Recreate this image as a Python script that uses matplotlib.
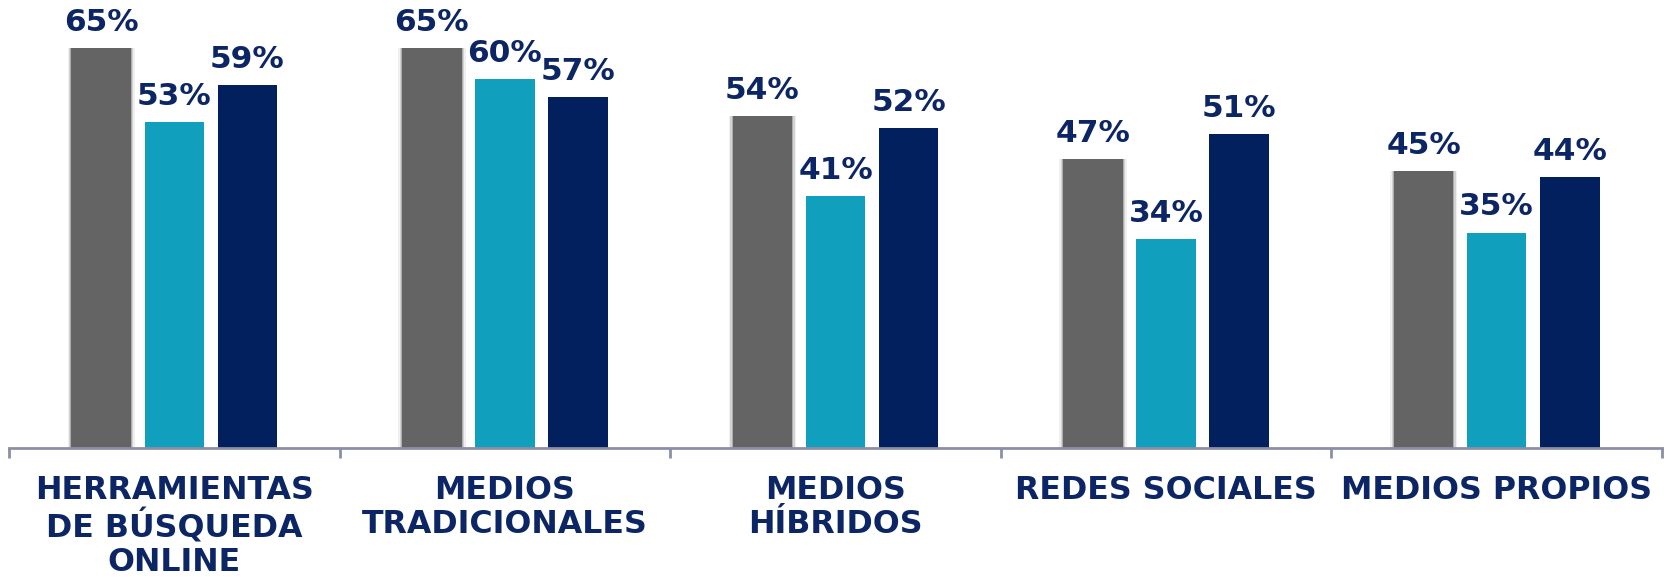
import matplotlib
matplotlib.use("Agg")
import matplotlib.pyplot as plt
import numpy as np

categories = ["HERRAMIENTAS\nDE BÚSQUEDA\nONLINE", "MEDIOS\nTRADICIONALES", "MEDIOS\nHÍBRIDOS",
              "REDES SOCIALES", "MEDIOS PROPIOS"]
series_gray = [65, 65, 54, 47, 45]
series_cyan = [53, 60, 41, 34, 35]
series_navy = [59, 57, 52, 51, 44]

GRAY = "#646464"
CYAN = "#10A0BE"
NAVY = "#03205E"
TEXT = "#0C2564"
AXIS = "#8C8FA3"

fig = plt.figure(figsize=(16.69, 5.77), dpi=100)
ax = fig.add_axes([9/1669, (577-448)/577, (1662-9)/1669, 448/577])
x = np.arange(len(categories))
off = 0.221
w = 0.18

# soft shadow around gray bars
for extra, a in [(0.024, 0.10), (0.014, 0.2), (0.006, 0.35)]:
    ax.bar(x - off, series_gray, width=w + extra, color=GRAY, alpha=a, linewidth=0)
ax.bar(x - off, series_gray, width=w, color=GRAY, linewidth=0)
ax.bar(x, series_cyan, width=w, color=CYAN, linewidth=0)
ax.bar(x + off, series_navy, width=w, color=NAVY, linewidth=0)

for xs, vals in [(x - off, series_gray), (x, series_cyan), (x + off, series_navy)]:
    for xi, v in zip(xs, vals):
        ax.annotate(f"{v}%", (xi, v), xytext=(0, 8), textcoords="offset points",
                    ha="center", va="bottom", fontsize=22.5, fontweight="bold",
                    color=TEXT, family="DejaVu Sans")

ax.set_xlim(-0.5, len(categories) - 0.5)
ax.set_ylim(0, 448/6.154)
for s in ["top", "right", "left"]:
    ax.spines[s].set_visible(False)
ax.spines["bottom"].set_color(AXIS)
ax.spines["bottom"].set_linewidth(2)
ax.set_yticks([])
ax.set_xticks(np.arange(len(categories) + 1) - 0.5)
ax.set_xticklabels([])
ax.tick_params(axis="x", length=7, width=2, color=AXIS)

for xi, c in zip(x, categories):
    ax.text(xi, -0.061, c, transform=ax.get_xaxis_transform(), ha="center", va="top",
            fontsize=22.8, fontweight="bold", color=TEXT, family="DejaVu Sans",
            linespacing=1.1, clip_on=False)

fig.savefig("out.png", dpi=100)
